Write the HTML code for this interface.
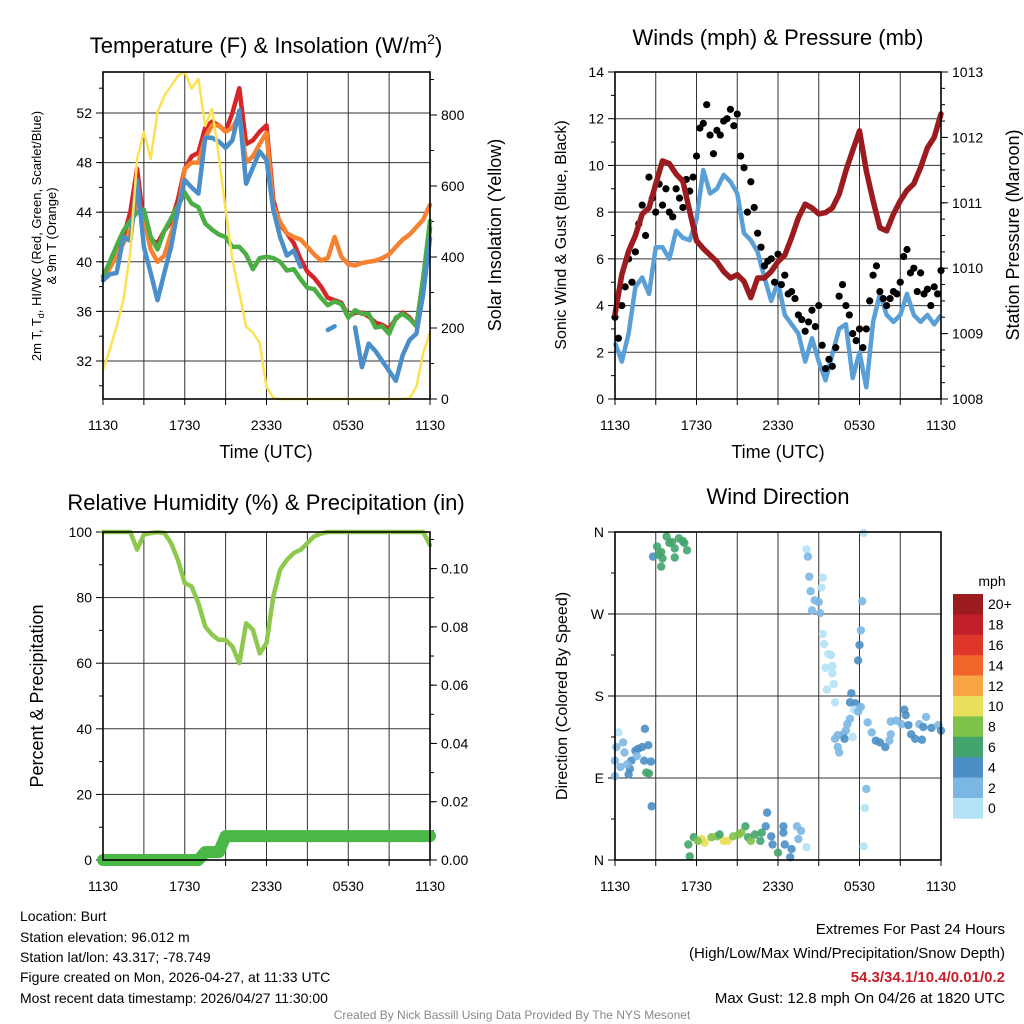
<!DOCTYPE html>
<html><head><meta charset="utf-8">
<style>
html,body{margin:0;padding:0;background:#fff;}
svg{display:block;font-family:"Liberation Sans",Arial,sans-serif;}
</style></head>
<body>
<svg id="chart" width="1024" height="1024" viewBox="0 0 1024 1024" xmlns="http://www.w3.org/2000/svg">
<rect width="1024" height="1024" fill="#fff"/>
<g id="layer"></g>
<text x="266" y="53" font-size="22" text-anchor="middle">Temperature (F) &amp; Insolation (W/m<tspan dy="-9" font-size="14">2</tspan><tspan dy="9">)</tspan></text>
<text x="778" y="45" font-size="22" text-anchor="middle">Winds (mph) &amp; Pressure (mb)</text>
<text x="266" y="510" font-size="22" text-anchor="middle">Relative Humidity (%) &amp; Precipitation (in)</text>
<text x="778" y="504" font-size="22" text-anchor="middle">Wind Direction</text>
<text x="266" y="458" font-size="18" text-anchor="middle">Time (UTC)</text>
<text x="778" y="458" font-size="18" text-anchor="middle">Time (UTC)</text>
<text transform="translate(41,236) rotate(-90)" font-size="13" text-anchor="middle">2m T, T<tspan dy="3" font-size="9">d</tspan><tspan dy="-3">, HI/WC (Red, Green, Scarlet/Blue)</tspan></text>
<text transform="translate(56,236) rotate(-90)" font-size="13" text-anchor="middle">&amp; 9m T (Orange)</text>
<text transform="translate(501,235) rotate(-90)" font-size="18" text-anchor="middle">Solar Insolation (Yellow)</text>
<text transform="translate(566,235) rotate(-90)" font-size="16" text-anchor="middle">Sonic Wind &amp; Gust (Blue, Black)</text>
<text transform="translate(1019,235) rotate(-90)" font-size="18" text-anchor="middle">Station Pressure (Maroon)</text>
<text transform="translate(43,696) rotate(-90)" font-size="18" text-anchor="middle">Percent &amp; Precipitation</text>
<text transform="translate(567,696) rotate(-90)" font-size="16" text-anchor="middle">Direction (Colored By Speed)</text>
<text x="992" y="586" font-size="14" text-anchor="middle">mph</text>
<g font-size="14">
<text x="20" y="921">Location: Burt</text>
<text x="20" y="942">Station elevation: 96.012 m</text>
<text x="20" y="962">Station lat/lon: 43.317; -78.749</text>
<text x="20" y="982">Figure created on Mon, 2026-04-27, at 11:33 UTC</text>
<text x="20" y="1003">Most recent data timestamp: 2026/04/27 11:30:00</text>
</g>
<g font-size="15" text-anchor="end">
<text x="1005" y="934">Extremes For Past 24 Hours</text>
<text x="1005" y="958">(High/Low/Max Wind/Precipitation/Snow Depth)</text>
<text x="1005" y="982" fill="#c8202a" font-weight="bold">54.3/34.1/10.4/0.01/0.2</text>
<text x="1005" y="1003">Max Gust: 12.8 mph On 04/26 at 1820 UTC</text>
</g>
<text x="512" y="1019" font-size="12" fill="#888" text-anchor="middle">Created By Nick Bassill Using Data Provided By The NYS Mesonet</text>
</svg>
<script>
// ---- data (30-min steps from 1130 UTC) ----
const timeTicks = ["1130","1730","2330","0530","1130"];
const tempRed = [38.8,39.6,40.8,42,44,47.5,43,41.8,41.5,42.5,43.2,45,47.5,48.5,48.8,50.8,51.3,51,50.5,52,54,49.5,49.8,50.5,51,45,43,42.3,41.5,40.2,39.2,38.7,38,37.1,36.9,36.7,35.6,35.9,35.9,35.6,35.1,34.9,34.6,35.4,35.9,35.5,34.8,38.6,42.7];
const tempOrange = [38.5,39.5,40.5,41.5,42.5,45,43.5,41,40,40.5,42.3,44,47.5,48,48,50,51,51,50.5,50.8,51.8,48,48.5,49.5,50.4,44.5,43.2,42.3,42,41.8,41.2,40.6,40.1,40.3,42,40.4,39.8,39.7,39.9,40,40.1,40.3,40.6,41.2,41.8,42.2,42.8,43.4,44.6];
const tempGreen = [38.8,40,41.3,42.5,43.3,44,44.2,42,41,42.5,43.5,44.5,45.6,44.7,44.4,43.1,42.6,42.2,42,41.2,41.2,40.6,39.4,40.3,40.4,40.3,40,39.3,39.4,38.6,37.9,37.8,37.1,36.5,36.8,36.6,35.5,36.1,35.8,35.8,34.7,34.8,34.2,35.5,35.8,35.4,34.8,38.7,43.3];
const tempBlue = [38.5,39,39.1,42,41.7,46.6,41.2,39.1,36.9,39.1,41.2,44.2,46.6,46,45.5,50,50,49.7,49.2,49.8,52.2,46.3,47.6,48.9,48.2,44.2,42,40.5,40.9,39.6,null,null,null,34.5,34.8,null,null,34.7,31.5,33.4,32.8,32,31.2,30.4,32.5,33.7,34.2,37.4,41.9];
const solar = [82,139,204,280,413,676,752,676,808,854,882,910,921,874,902,769,817,684,534,393,300,204,187,158,34,3,0,0,0,0,0,0,0,0,0,0,0,0,0,0,0,0,0,0,0,2,34,130,187];
const sonicWind = [2.4,1.6,2.8,4.8,5.2,4.5,6.5,6.5,6,7.2,6.9,6.8,7.7,9.8,8.8,9,9.6,9.3,8.8,7.1,6.8,6.3,5.2,4.2,5,3.6,3.2,2.8,1.6,2.6,1.6,0.8,1.9,3,3.2,0.9,2,0.5,3.3,4.5,3.6,3.3,3.6,4.5,3.6,3.3,3.6,3.2,3.6];
const pressure = [1009.3,1009.9,1010.26,1010.5,1010.83,1010.92,1011.29,1011.64,1011.6,1011.44,1011.33,1010.87,1010.42,1010.3,1010.2,1010.1,1009.95,1009.85,1009.9,1009.8,1009.55,1009.85,1009.85,1009.95,1010.1,1010.2,1010.47,1010.77,1010.98,1010.92,1010.83,1010.85,1010.92,1011.13,1011.49,1011.8,1012.1,1011.49,1011.03,1010.62,1010.57,1010.83,1011.03,1011.19,1011.29,1011.54,1011.84,1012,1012.36];
// gusts at 15-min steps
const gust = [3.5,2.6,4.0,4.8,6.0,5.0,6.3,7.5,8.3,7.0,9.5,8.6,8.0,9.2,8.3,9.0,8.0,7.8,9.0,8.6,8.2,9.4,8.9,9.5,10.4,11.6,11.8,12.6,11.3,10.5,11.5,11.3,11.9,12.0,12.4,11.7,12.2,10.4,9.9,8.0,9.3,8.2,7.1,6.5,5.7,5.9,6.0,5.0,6.2,4.9,5.3,4.5,4.6,4.3,3.6,3.4,2.9,3.3,3.8,3.1,4.0,2.3,1.3,1.7,1.4,2.2,4.4,4.9,4.0,3.6,2.8,2.5,3.0,2.2,3.0,4.2,5.3,5.7,4.6,4.3,4.0,4.3,4.6,4.5,5.0,6.1,6.4,5.4,5.6,4.6,5.4,4.5,4.7,4.0,4.8,4.5,5.5];
const rh = [100,100,100,100,100,94.6,99.2,99.7,99.9,99.7,96.6,91.5,84.4,83.4,78.3,71.2,68.7,67.1,67.1,65.1,60,72.2,70.2,63,66.1,80.4,88.5,91.5,93.6,94.6,96.6,98.7,99.5,100,100,100,100,100,100,100,100,100,100,100,100,100,100,100,96];
const precip = [0,0,0,0,0,0,0,0,0,0,0,0,0,0,0,0.0027,0.0027,0.0027,0.0082,0.0082,0.0082,0.0082,0.0082,0.0082,0.0082,0.0082,0.0082,0.0082,0.0082,0.0082,0.0082,0.0082,0.0082,0.0082,0.0082,0.0082,0.0082,0.0082,0.0082,0.0082,0.0082,0.0082,0.0082,0.0082,0.0082,0.0082,0.0082,0.0082,0.0082];
// wind direction obs: hours since 1130, degrees, speed mph
const dirHours = [0.25,0.6,0.1,0,0.4,0.7,1,1.2,1.5,1.7,2,2.2,2.45,2.15,2.65,2.3,2.5,1.1,0,0.9,1.6,2.7,
 2.8,3.1,3.4,3.8,4.0,4.4,4.7,5.1,5.3,3.5,3.4,4.4,5.0,4.2,3.2,
 5.5,5.4,5.8,6.4,6.6,7.1,7.5,8,8.3,8.7,9.1,9.3,9.6,9.8,10,10.3,10.7,10.8,11.2,11.1,11.5,11.6,12,12.4,12.4,12.5,12.9,13,13.4,13.7,13.5,14.1,6.1,7.7,
 14.1,14.2,14.3,14.4,14.7,15,14.5,15.1,15.3,15.2,15.3,15.4,15.7,15.9,15.5,16,16,16.1,15.6,16.2,17.4,17.3,17.7,17.6,17.9,17.3,17.1,17,16.8,16.4,16.2,16.4,16.9,17.5,16.5,
 18.6,18.9,19.2,19.5,19.9,20.2,20.3,20.3,20.7,21.1,21.3,21.4,21.6,21.8,22.1,22.4,22.7,22.9,23.3,23.8,24,22.6,18.1,
 18.3,18.2,18.1,18,17.9,18.5,18.4,18.3];
const dirDeg = [140,129,124,109,102,118,94,109,120,122,124,144,126,109,108,96,95,100,92,105,114,59,
 333,344,338,355,348,342,353,348,340,331,322,332,350,349,335,
 4,17,25,23,19,25,26,21,21,26,28,30,37,25,21,28,21,30,52,37,26,17,8,37,30,17,3,12,37,32,23,14,21,28,
 341,333,311,295,285,283,274,271,310,299,248,237,226,225,211,213,205,193,187,173,183,173,172,165,163,155,149,142,138,137,133,124,133,135,118,
 151,140,131,129,124,131,138,152,153,149,165,159,148,138,133,149,146,157,145,148,142,132,168,
 359,284,252,236,219,78,57,15];
const dirSpeed = [1,2,3,3,2,2,4,4,4,4,4,4,4,4,4,6,6,4,2,2,3,4,
 4,6,6,6,6,6,6,6,6,6,6,6,6,6,6,
 6,6,6,10,10,8,8,10,10,8,8,8,6,6,8,6,6,6,4,4,4,4,6,4,4,4,4,4,2,2,2,1,8,6,
 1,2,2,2,2,2,2,2,1,1,1,1,1,1,0,1,0,1,0,0,4,4,4,1,2,2,2,2,2,2,2,2,4,1,2,
 2,2,4,4,4,2,2,2,2,2,4,4,4,4,4,2,4,2,4,2,4,4,2,
 0,3,3,4,4,3,1,1];
const speedLabels = ["20+","18","16","14","12","10","8","6","4","2","0"];
const speedColors = ["#9b1b1e","#c1202a","#e0352b","#f1652a","#f7a545","#e8df5a","#7fc24a","#43a46d","#4b8fc6","#7cb7e3","#b4e2f6"];

const NS="http://www.w3.org/2000/svg";
const layer=document.getElementById('layer');
function mk(tag,attrs,parent){const e=document.createElementNS(NS,tag);for(const k in attrs)e.setAttribute(k,attrs[k]);(parent||layer).appendChild(e);return e;}
function lin(d0,d1,r0,r1){return v=>r0+(v-d0)*(r1-r0)/(d1-d0);}
function linePath(xs,ys){let d="",pen=false;for(let i=0;i<ys.length;i++){if(ys[i]===null){pen=false;continue;}d+=(pen?"L":"M")+xs(i).toFixed(1)+","+ys[i].toFixed(1);pen=true;}return d;}

function frame(name,L,R,T,B){
  const g=mk('g',{});
  
  
  const xs=lin(0,24,L,R);
  for(let h=3;h<24;h+=3){
    const gl=mk('line',{x1:xs(h),x2:xs(h),y1:T,y2:B,stroke:'#333','stroke-width':1},g);
    
    
  }
  for(let h=0;h<=24;h+=3){mk('line',{x1:xs(h),x2:xs(h),y1:B,y2:B+6,stroke:'#000','stroke-width':1},g);}
  for(let k=0;k<timeTicks.length;k++){
    const t=mk('text',{x:xs(k*6),y:B+31,'font-size':14,'text-anchor':'middle'},g);
    t.textContent=timeTicks[k];
    
    
  }
  return {g,xs};
}
function border(L,R,T,B){
  const r=mk('rect',{x:L,y:T,width:R-L,height:B-T,fill:'none',stroke:'#000','stroke-width':1.6});
  
  
}
function leftAxis(L,R,ys,ticks,labels,minor,grid){
  for(const m of minor){mk('line',{x1:L-4,x2:L,y1:ys(m),y2:ys(m),stroke:'#000'});}
  ticks.forEach((v,k)=>{
    mk('line',{x1:L-7,x2:L,y1:ys(v),y2:ys(v),stroke:'#000'});
    if(grid){
      const gl=mk('line',{x1:L,x2:R,y1:ys(v),y2:ys(v),stroke:'#333','stroke-width':1});
      
      
    }
    const t=mk('text',{x:L-11,y:ys(v)+5,'font-size':14,'text-anchor':'end'});
    t.textContent=labels[k];
    
    
  });
}
function rightAxis(R,ys,ticks,labels,minor){
  for(const m of minor){mk('line',{x1:R,x2:R+4,y1:ys(m),y2:ys(m),stroke:'#000'});}
  ticks.forEach((v,k)=>{
    mk('line',{x1:R,x2:R+7,y1:ys(v),y2:ys(v),stroke:'#000'});
    const t=mk('text',{x:R+11,y:ys(v)+5,'font-size':14,'text-anchor':'start'});
    t.textContent=labels[k];
    
    
  });
}
function range(a,b,s){const o=[];for(let v=a;v<=b+1e-9;v+=s)o.push(+v.toFixed(4));return o;}

// ---------- Panel 1: temperature ----------
(function(){
  const L=103,R=430,T=72,B=399;
  const {xs}=frame('temp',L,R,T,B);
  const xi=i=>xs(i*0.5);
  const yT=lin(32,52,361,113);
  const yS=lin(0,800,399,115);
  const tk=[32,36,40,44,48,52];
  leftAxis(L,R,yT,tk,tk.map(String),range(30,54,2),true);
  const sk=[0,200,400,600,800];
  rightAxis(R,yS,sk,sk.map(String),range(100,900,100));
  const series=[['temp-2m-line',tempRed,'#d7262a'],['temp-9m-line',tempOrange,'#f58231'],['hi-wc-line',tempGreen,'#4aae44'],['temp-scarlet-blue-line',tempBlue,'#4a8fc9']];
  for(const [nm,arr,col] of series){
    const p=mk('path',{d:linePath(xi,arr.map(v=>v===null?null:yT(v))),fill:'none',stroke:col,'stroke-width':4.5,'stroke-linejoin':'round','stroke-linecap':'round'});
    
    
  }
  const sp=mk('path',{d:linePath(xi,solar.map(yS)),fill:'none',stroke:'#fde153','stroke-width':2.5,'stroke-linejoin':'round'});
  
  
  border(L,R,T,B);
})();

// ---------- Panel 2: winds ----------
(function(){
  const L=615,R=941,T=72,B=399;
  const {xs}=frame('wind',L,R,T,B);
  const yW=lin(0,14,399,72);
  const yP=lin(1008,1013,399,72);
  const tk=range(0,14,2);
  leftAxis(L,R,yW,tk,tk.map(String),range(1,13,2),true);
  const pk=[1008,1009,1010,1011,1012,1013];
  rightAxis(R,yP,pk,pk.map(String),range(1008.25,1012.75,0.25));
  const wp=mk('path',{d:linePath(i=>xs(i*0.5),sonicWind.map(yW)),fill:'none',stroke:'#5a9fd6','stroke-width':4.5,'stroke-linejoin':'round'});
  
  
  gust.forEach((v,j)=>{
    const c=mk('circle',{cx:xs(j*0.25),cy:yW(v),r:3.6,fill:'#000'});
    
    
  });
  const pp=mk('path',{d:linePath(i=>xs(i*0.5),pressure.map(yP)),fill:'none',stroke:'#9b1b1e','stroke-width':5.5,'stroke-linejoin':'round','stroke-linecap':'round'});
  
  
  border(L,R,T,B);
})();

// ---------- Panel 3: RH & precip ----------
(function(){
  const L=103,R=430,T=532,B=860;
  const {xs}=frame('rh',L,R,T,B);
  const yR=lin(0,100,860,532);
  const yQ=lin(0,0.1,860,568.6);
  const tk=range(0,100,20);
  leftAxis(L,R,yR,tk,tk.map(String),range(10,90,20),true);
  const qk=range(0,0.1,0.02);
  rightAxis(R,yQ,qk,qk.map(v=>v.toFixed(2)),range(0.01,0.11,0.01));
  const qp=mk('path',{d:linePath(i=>xs(i*0.5),precip.map(yQ)),fill:'none',stroke:'#4ab847','stroke-width':12,'stroke-linecap':'round','stroke-linejoin':'round'});
  
  
  const rp=mk('path',{d:linePath(i=>xs(i*0.5),rh.map(yR)),fill:'none',stroke:'#8dc94e','stroke-width':4.5,'stroke-linejoin':'round','stroke-linecap':'round'});
  
  
  border(L,R,T,B);
})();

// ---------- Panel 4: wind direction ----------
(function(){
  const L=615,R=941,T=532,B=860;
  const {xs}=frame('direction',L,R,T,B);
  const yD=lin(0,360,860,532);
  const dk=[0,90,180,270,360];
  leftAxis(L,R,yD,dk,["N","E","S","W","N"],[45,135,225,315],true);
  function colorFor(s){const idx=Math.min(10,Math.floor(s/2));return speedColors[10-idx];}
  dirDeg.forEach((d,k)=>{
    const c=mk('circle',{cx:xs(dirHours[k]),cy:yD(d),r:4.2,fill:colorFor(dirSpeed[k]),'fill-opacity':0.9});
    
    
  });
  border(L,R,T,B);
  const cb=mk('g',{});
  
  
  const top=594,h=20.4;
  speedLabels.forEach((lab,k)=>{
    const r=mk('rect',{x:953,y:top+k*h,width:30,height:h+0.3,fill:speedColors[k]},cb);
    
    
    const t=mk('text',{x:988,y:top+k*h+h/2+5,'font-size':14},cb);
    t.textContent=lab;
    
    
  });
})();
</script>
</body></html>
